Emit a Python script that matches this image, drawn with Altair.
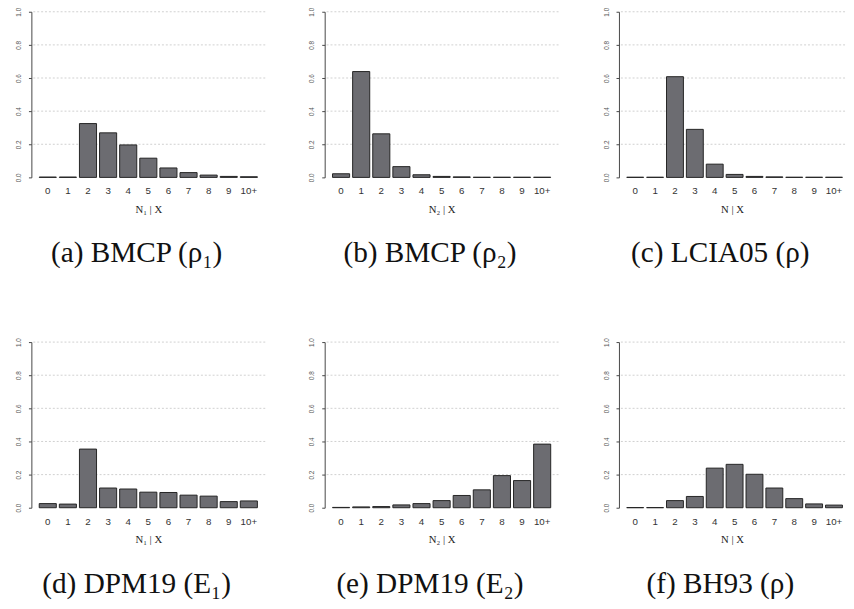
import altair as alt
import pandas as pd

cats = ["0", "1", "2", "3", "4", "5", "6", "7", "8", "9", "10+"]

vals_a = [0.002, 0.002, 0.325, 0.269, 0.196, 0.116, 0.057, 0.029, 0.014, 0.006, 0.004]
vals_b = [0.022, 0.639, 0.263, 0.065, 0.016, 0.006, 0.003, 0.001, 0.001, 0.001, 0.001]
vals_c = [0.001, 0.001, 0.608, 0.290, 0.080, 0.018, 0.006, 0.003, 0.001, 0.001, 0.001]
vals_d = [0.025, 0.022, 0.354, 0.119, 0.113, 0.094, 0.092, 0.076, 0.070, 0.037, 0.041]
vals_e = [0.002, 0.005, 0.007, 0.017, 0.025, 0.043, 0.074, 0.108, 0.194, 0.164, 0.384]
vals_f = [0.001, 0.001, 0.043, 0.068, 0.239, 0.262, 0.202, 0.119, 0.055, 0.023, 0.016]

xtitles = ["N₁ | X", "N₂ | X", "N | X", "N₁ | X", "N₂ | X", "N | X"]
captions = ["(a) BMCP (ρ₁)", "(b) BMCP (ρ₂)", "(c) LCIA05 (ρ)",
            "(d) DPM19 (E₁)", "(e) DPM19 (E₂)", "(f) BH93 (ρ)"]

y_ticks = [0.0, 0.2, 0.4, 0.6, 0.8, 1.0]
grid_vals = [0.2, 0.4, 0.6, 0.8, 1.0]

PLOT_H = 170


def y_axis():
    return alt.Axis(
        title=None, values=y_ticks, format=".1f", grid=False,
        labelAngle=270, labelAlign="center", labelBaseline="bottom",
        labelFont="Liberation Sans", labelFontSize=6.5, labelColor="#555555",
        labelPadding=7, tickSize=3, tickColor="#444444",
        domainColor="#444444", domainWidth=1,
    )


def panel(vals, xtitle, caption, width, p_outer, align):
    df = pd.DataFrame({"cat": cats, "p": vals})
    grid_df = pd.DataFrame({"g": grid_vals})
    yscale = alt.Scale(domain=[0, 1], nice=False)
    grid = alt.Chart(grid_df).mark_rule(
        color="#c4c4c4", strokeDash=[2, 2], strokeWidth=0.8
    ).encode(y=alt.Y("g:Q", scale=yscale, axis=y_axis()))
    bars = alt.Chart(df).mark_bar(
        color="#6c6c71", stroke="#232323", strokeWidth=1
    ).encode(
        x=alt.X(
            "cat:N", sort=cats,
            scale=alt.Scale(paddingInner=0.15, paddingOuter=p_outer, align=align),
            axis=alt.Axis(
                title=xtitle, labelAngle=0, domain=False, ticks=False, grid=False,
                labelFont="Liberation Sans", labelFontSize=10, labelColor="#333333",
                labelPadding=9, titleFont="Liberation Serif", titleFontSize=11,
                titleFontWeight="normal", titleColor="#222222", titlePadding=8,
            ),
        ),
        y=alt.Y("p:Q", scale=yscale, axis=y_axis()),
    )
    return alt.layer(grid, bars).properties(
        width=width, height=PLOT_H,
        title=alt.TitleParams(
            text=caption, orient="bottom", font="Liberation Serif", fontSize=30,
            fontWeight="normal", color="#111111", dx=-12, offset=25,
        ),
    )


pa = panel(vals_a, xtitles[0], captions[0], 240, 0.39, 0.5)
pb = panel(vals_b, xtitles[1], captions[1], 240, 0.39, 0.5)
pc = panel(vals_c, xtitles[2], captions[2], 232, 0.2615, 0.75)
pd_ = panel(vals_d, xtitles[3], captions[3], 240, 0.39, 0.5)
pe = panel(vals_e, xtitles[4], captions[4], 240, 0.39, 0.5)
pf = panel(vals_f, xtitles[5], captions[5], 232, 0.2615, 0.75)

row1 = alt.hconcat(alt.hconcat(pa, pb, spacing=44), pc, spacing=45)
row2 = alt.hconcat(alt.hconcat(pd_, pe, spacing=44), pf, spacing=45)

chart = alt.vconcat(row1, row2, spacing=71).properties(
    padding={"left": 8, "top": -9, "right": 0, "bottom": 0},
    background="white",
).configure_view(stroke=None)

chart.save("out.html", embed_options={"renderer": "svg", "actions": False})
